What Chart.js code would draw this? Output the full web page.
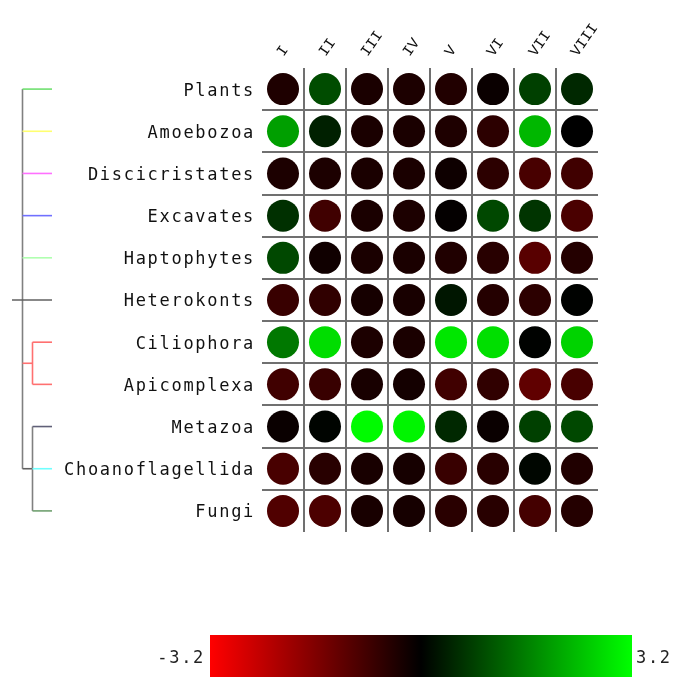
<!DOCTYPE html>
<html>
<head>
<meta charset="utf-8">
<script src="https://cdn.jsdelivr.net/npm/chart.js@4.4.1/dist/chart.umd.min.js"></script>
<style>
  html, body { margin: 0; padding: 0; background: #fff; }
  #wrap { width: 678px; height: 677px; position: relative; }
</style>
</head>
<body>
<div id="wrap"><canvas id="heat"></canvas></div>
<script>
// Column (domain) labels and group names
const columns = ['I', 'II', 'III', 'IV', 'V', 'VI', 'VII', 'VIII'];
const groups = ['Plants', 'Amoebozoa', 'Discicristates', 'Excavates', 'Haptophytes',
    'Heterokonts', 'Ciliophora', 'Apicomplexa', 'Metazoa', 'Choanoflagellida', 'Fungi'];

// Values per group, one per column (red = negative, green = positive)
const plants           = [-0.38,  0.95, -0.33, -0.35, -0.42, -0.12,  0.80,  0.50];
const amoebozoa        = [ 2.00,  0.40, -0.33, -0.33, -0.38, -0.55,  2.30,  0.00];
const discicristates   = [-0.35, -0.35, -0.33, -0.33, -0.18, -0.55, -0.90, -0.80];
const excavates        = [ 0.60, -0.80, -0.33, -0.35, -0.05,  0.90,  0.65, -0.93];
const haptophytes      = [ 0.90, -0.20, -0.33, -0.33, -0.40, -0.50, -1.10, -0.45];
const heterokonts      = [-0.70, -0.60, -0.28, -0.30,  0.28, -0.45, -0.55,  0.02];
const ciliophora       = [ 1.50,  2.77, -0.35, -0.33,  2.90,  2.80,  0.03,  2.65];
const apicomplexa      = [-0.80, -0.70, -0.30, -0.25, -0.80, -0.60, -1.20, -0.90];
const metazoa          = [-0.12,  0.05,  3.15,  3.07,  0.50, -0.12,  0.80,  0.90];
const choanoflagellida = [-0.90, -0.50, -0.30, -0.28, -0.70, -0.50,  0.07, -0.40];
const fungi            = [-1.00, -0.95, -0.30, -0.28, -0.52, -0.50, -0.85, -0.45];

const rows = [plants, amoebozoa, discicristates, excavates, haptophytes, heterokonts,
    ciliophora, apicomplexa, metazoa, choanoflagellida, fungi];

// Colour scale range
const scaleMin = -3.2;
const scaleMax = 3.2;

// Dendrogram: leaf colours, sub-clades (row indices), root stub row
const leafColors = ['#70e070', '#ffff70', '#ff70ff', '#7070ff', '#b0ffb0', '#606060',
    '#ff7070', '#ff7070', '#606078', '#70ffff', '#70a070'];
const clades = [
    { rows: [6, 7], color: '#ff7070' },
    { rows: [8, 9, 10], color: '#808080' }
];
const rootRow = 5;

function cellColor(v) {
    const t = Math.min(1, Math.abs(v) / scaleMax);
    const c = Math.round(255 * t);
    return v >= 0 ? `rgb(0,${c},0)` : `rgb(${c},0,0)`;
}

const points = [];
rows.forEach((vals, r) => {
    vals.forEach((v, c) => {
        points.push({ x: columns[c], y: groups[r], v: v });
    });
});

// Text spacing: wide row labels, plain column labels
const spacingPlugin = {
    id: 'spacing',
    beforeDraw(chart) { chart.ctx.letterSpacing = '1.7px'; },
    beforeDatasetsDraw(chart) { chart.ctx.letterSpacing = '0px'; }
};

// Dendrogram on the left
const treePlugin = {
    id: 'tree',
    afterDraw(chart) {
        const ctx = chart.ctx;
        const ys = chart.scales.y;
        const yOf = i => ys.getPixelForValue(i);
        const xRoot = 12, xTrunk = 22.5, xClade = 32.5, xLeaf = 52;
        const line = (x1, y1, x2, y2, color) => {
            ctx.strokeStyle = color;
            ctx.beginPath();
            ctx.moveTo(x1, y1);
            ctx.lineTo(x2, y2);
            ctx.stroke();
        };
        ctx.save();
        ctx.lineWidth = 1.6;
        const inClade = new Set();
        clades.forEach(cl => cl.rows.forEach(r => inClade.add(r)));
        const last = clades[clades.length - 1];
        const trunkEnd = (yOf(last.rows[0]) + yOf(last.rows[last.rows.length - 1])) / 2;
        line(xTrunk, yOf(0), xTrunk, trunkEnd, '#808080');
        groups.forEach((g, r) => {
            if (inClade.has(r)) return;
            line(r === rootRow ? xRoot : xTrunk, yOf(r), xLeaf, yOf(r), leafColors[r]);
        });
        clades.forEach(cl => {
            const y1 = yOf(cl.rows[0]);
            const y2 = yOf(cl.rows[cl.rows.length - 1]);
            line(xTrunk, (y1 + y2) / 2, xClade, (y1 + y2) / 2, cl.color === '#808080' ? '#606060' : cl.color);
            line(xClade, y1, xClade, y2, cl.color);
            cl.rows.forEach(r => line(xClade, yOf(r), xLeaf, yOf(r), leafColors[r]));
        });
        ctx.restore();
    }
};

// Colour bar at the bottom
const colorBarPlugin = {
    id: 'colorBar',
    afterDraw(chart) {
        const ctx = chart.ctx;
        const x0 = 210, x1 = 632, y0 = 635, y1 = 677;
        ctx.save();
        const grad = ctx.createLinearGradient(x0, 0, x1, 0);
        grad.addColorStop(0, cellColor(scaleMin));
        grad.addColorStop(0.5, cellColor(0));
        grad.addColorStop(1, cellColor(scaleMax));
        ctx.fillStyle = grad;
        ctx.fillRect(x0, y0, x1 - x0, y1 - y0);
        ctx.letterSpacing = '1.7px';
        ctx.font = '17px "DejaVu Sans Mono", monospace';
        ctx.fillStyle = '#222';
        ctx.textBaseline = 'middle';
        ctx.textAlign = 'right';
        ctx.fillText(scaleMin.toFixed(1), 205, 659);
        ctx.textAlign = 'left';
        ctx.fillText(scaleMax.toFixed(1), 636, 659);
        ctx.restore();
    }
};

const gridColor = ctx => (ctx.index > 0 && ctx.type === 'tick') ? '#707070' : 'rgba(0,0,0,0)';

new Chart(document.getElementById('heat'), {
    type: 'scatter',
    data: {
        datasets: [{
            data: points,
            pointRadius: 16,
            pointHoverRadius: 16,
            pointBorderWidth: 0,
            pointBackgroundColor: ctx => cellColor(ctx.raw.v)
        }]
    },
    options: {
        responsive: true,
        maintainAspectRatio: false,
        animation: false,
        layout: { padding: { left: 0, top: 0, right: 80, bottom: 145 } },
        plugins: {
            legend: { display: false },
            tooltip: { enabled: false }
        },
        scales: {
            x: {
                type: 'category',
                labels: columns,
                position: 'top',
                offset: true,
                afterFit: s => { s.height = 68; },
                grid: { offset: true, drawTicks: false, color: gridColor, lineWidth: 2 },
                border: { display: false },
                ticks: {
                    z: 1,
                    minRotation: 55,
                    maxRotation: 55,
                    padding: 8,
                    labelOffset: 12,
                    color: '#111',
                    font: { family: '"Liberation Mono", monospace', size: 15 }
                }
            },
            y: {
                type: 'category',
                labels: groups,
                position: 'left',
                offset: true,
                afterFit: s => { s.width = 262; },
                grid: { offset: true, drawTicks: false, color: gridColor, lineWidth: 2 },
                border: { display: false },
                ticks: {
                    padding: 7,
                    labelOffset: 2,
                    color: '#111',
                    font: { family: '"DejaVu Sans Mono", monospace', size: 17 }
                }
            }
        }
    },
    plugins: [spacingPlugin, treePlugin, colorBarPlugin]
});
</script>
</body>
</html>
